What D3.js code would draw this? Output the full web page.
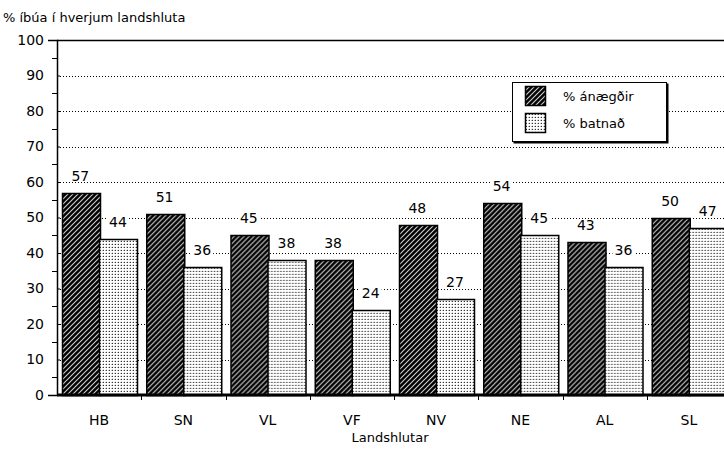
<!DOCTYPE html>
<html>
<head>
<meta charset="utf-8">
<script src="https://cdn.jsdelivr.net/npm/d3@7"></script>
<style>
  body { margin: 0; background: #fff; }
  text { font-family: "DejaVu Sans", sans-serif; fill: #000; }
</style>
</head>
<body>
<div id="wrapper"></div>
<script>
const categories = ["HB", "SN", "VL", "VF", "NV", "NE", "AL", "SL"]
const seriesNames = ["% ánægðir", "% batnað"]
const satisfied = [57, 51, 45, 38, 48, 54, 43, 50]
const improved = [44, 36, 38, 24, 27, 45, 36, 47]
const yTicks = [0, 10, 20, 30, 40, 50, 60, 70, 80, 90, 100]
const yMinorTicks = [5, 15, 25, 35, 45, 55, 65, 75, 85, 95]

const data = categories.map((c, i) => ({
  cat: c,
  values: [
    { key: seriesNames[0], value: satisfied[i] },
    { key: seriesNames[1], value: improved[i] },
  ]
}))

const dms = {
  width: 724,
  height: 452,
  left: 57,
  top: 40,
  bottom: 395,
  right: 731,
}

const svg = d3.select("#wrapper")
  .append("svg")
  .attr("width", dms.width)
  .attr("height", dms.height)

// fill patterns
const defs = svg.append("defs")
const hatch = defs.append("pattern")
  .attr("id", "hatch")
  .attr("patternUnits", "userSpaceOnUse")
  .attr("width", 5)
  .attr("height", 5)
hatch.append("rect").attr("width", 5).attr("height", 5).attr("fill", "#000")
hatch.append("path")
  .attr("d", "M-1,1 l2,-2 M0,5 l5,-5 M4,6 l2,-2")
  .attr("stroke", "#d0d0d0")
  .attr("stroke-width", 1.1)

const dots = defs.append("pattern")
  .attr("id", "dots")
  .attr("patternUnits", "userSpaceOnUse")
  .attr("width", 3)
  .attr("height", 3)
dots.append("rect").attr("width", 3).attr("height", 3).attr("fill", "#fff")
dots.append("rect").attr("x", 1).attr("y", 1).attr("width", 1).attr("height", 1).attr("fill", "#333")
dots.append("rect").attr("x", 0).attr("y", 1).attr("width", 1).attr("height", 1).attr("fill", "#bbb")
dots.append("rect").attr("x", 1).attr("y", 0).attr("width", 1).attr("height", 1).attr("fill", "#ddd")

const fills = { [seriesNames[0]]: "url(#hatch)", [seriesNames[1]]: "url(#dots)" }

const yScale = d3.scaleLinear()
  .domain([0, 100])
  .range([dms.bottom, dms.top])

const xScale = d3.scaleBand()
  .domain(categories)
  .range([dms.left, dms.right])

const xInner = d3.scaleBand()
  .domain(seriesNames)
  .range([4.5, xScale.bandwidth() - 4.5])

// gridlines
svg.append("g")
  .selectAll("line")
  .data(yTicks.filter(d => d > 0 && d < 100))
  .join("line")
  .attr("x1", dms.left)
  .attr("x2", dms.width)
  .attr("y1", d => Math.round(yScale(d)) + 0.5)
  .attr("y2", d => Math.round(yScale(d)) + 0.5)
  .attr("stroke", "#000")
  .attr("stroke-dasharray", "1,2")

svg.append("line")
  .attr("x1", dms.left)
  .attr("x2", dms.width)
  .attr("y1", Math.round(yScale(100)) + 0.5)
  .attr("y2", Math.round(yScale(100)) + 0.5)
  .attr("stroke", "#000")
  .attr("stroke-width", 1.5)

// bars
const groups = svg.append("g")
  .selectAll("g")
  .data(data)
  .join("g")
  .attr("transform", d => `translate(${xScale(d.cat)},0)`)

groups.selectAll("rect")
  .data(d => d.values)
  .join("rect")
  .attr("x", d => Math.round(xInner(d.key)) + 0.5)
  .attr("width", Math.round(xInner.bandwidth()))
  .attr("y", d => Math.round(yScale(d.value)) + 0.5)
  .attr("height", d => dms.bottom - Math.round(yScale(d.value)))
  .attr("fill", d => fills[d.key])
  .attr("stroke", "#000")
  .attr("stroke-width", 1.5)

// value labels with white backing
const labels = groups.selectAll("g.lab")
  .data(d => d.values)
  .join("g")
  .attr("class", "lab")
  .attr("transform", d => `translate(${xInner(d.key) + xInner.bandwidth() / 2},${yScale(d.value) - 12})`)

labels.append("rect")
  .attr("x", -11)
  .attr("y", -11)
  .attr("width", 22)
  .attr("height", 12)
  .attr("fill", "#fff")

labels.append("text")
  .attr("text-anchor", "middle")
  .attr("font-size", 14)
  .text(d => d.value)

// y axis
const yAxis = svg.append("g")
  .attr("transform", `translate(${dms.left},0)`)
  .call(d3.axisLeft(yScale).tickValues(yTicks).tickSize(9).tickPadding(4))
yAxis.select(".domain").attr("stroke-width", 1.5)
yAxis.selectAll(".tick line").attr("x2", 3)
yAxis.selectAll(".tick text")
  .attr("font-size", 14)
  .attr("font-family", "DejaVu Sans, sans-serif")

svg.append("g")
  .selectAll("line")
  .data(yMinorTicks)
  .join("line")
  .attr("x1", dms.left - 5)
  .attr("x2", dms.left)
  .attr("y1", d => Math.round(yScale(d)) + 0.5)
  .attr("y2", d => Math.round(yScale(d)) + 0.5)
  .attr("stroke", "#000")

// x axis
svg.append("line")
  .attr("x1", dms.left)
  .attr("x2", dms.width)
  .attr("y1", dms.bottom)
  .attr("y2", dms.bottom)
  .attr("stroke", "#000")
  .attr("stroke-width", 3)

svg.append("g")
  .selectAll("line")
  .data(categories.slice(1))
  .join("line")
  .attr("x1", d => Math.round(xScale(d)) + 0.5)
  .attr("x2", d => Math.round(xScale(d)) + 0.5)
  .attr("y1", dms.bottom)
  .attr("y2", dms.bottom + 5)
  .attr("stroke", "#000")

const xAxis = svg.append("g")
  .attr("transform", `translate(0,${dms.bottom})`)
  .call(d3.axisBottom(xScale).tickSize(0).tickPadding(20))
xAxis.select(".domain").remove()
xAxis.selectAll(".tick text")
  .attr("font-size", 14)
  .attr("font-family", "DejaVu Sans, sans-serif")

// titles
svg.append("text")
  .attr("x", 3)
  .attr("y", 22)
  .attr("font-size", 13)
  .text("% íbúa í hverjum landshluta")

svg.append("text")
  .attr("x", (dms.left + dms.right) / 2 - 4)
  .attr("y", 442)
  .attr("text-anchor", "middle")
  .attr("font-size", 13)
  .text("Landshlutar")

// legend
const legend = svg.append("g").attr("transform", "translate(512,82)")
legend.append("rect")
  .attr("x", 1.5).attr("y", 1.5)
  .attr("width", 155).attr("height", 60)
  .attr("fill", "#000")
legend.append("rect")
  .attr("x", 0.5).attr("y", 0.5)
  .attr("width", 154).attr("height", 59)
  .attr("fill", "#fff")
  .attr("stroke", "#000")

const items = legend.selectAll("g.item")
  .data(seriesNames)
  .join("g")
  .attr("class", "item")
  .attr("transform", (d, i) => `translate(13,${4 + i * 27})`)
items.append("rect")
  .attr("x", 0.5).attr("y", 0.5)
  .attr("width", 20).attr("height", 19)
  .attr("fill", d => fills[d])
  .attr("stroke", "#000")
  .attr("stroke-width", 1.5)
items.append("text")
  .attr("x", 38)
  .attr("y", 15)
  .attr("font-size", 13)
  .text(d => d)
</script>
</body>
</html>
